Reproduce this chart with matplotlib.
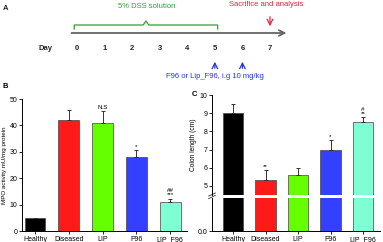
import matplotlib
matplotlib.use("Agg")
import matplotlib.pyplot as plt
import numpy as np

# data
groups = ["Healthy", "Diseased", "LIP", "F96", "LIP_F96"]
colors = ["#000000", "#ff1a1a", "#66ff00", "#3340ff", "#7fffd4"]
mpo = [5, 42, 41, 28, 11]
mpo_err = [0, 3.8, 4.5, 2.6, 1.3]
mpo_marks = ["", "", "N.S", "*", "##\n***"]
colon = [9.0, 5.3, 5.6, 7.0, 8.5]
colon_err = [0.5, 0.6, 0.4, 0.55, 0.3]
colon_marks = ["", "**", "", "*", "#\n**"]
days = [0, 1, 2, 3, 4, 5, 6, 7]
dss_days = [0, 5]
dose_days = [5, 6]
sacrifice_day = 7

plt.rcParams['font.family'] = ['Liberation Sans', 'DejaVu Sans']
fig = plt.figure(figsize=(3.83, 2.42), dpi=100)
W, H = 383, 242

# ---- panel A (timeline) ----
ax_a = fig.add_axes([0, 1 - 80 / H, 1, 80 / H])
px0, step = 77, 27.57
ax_a.set_xlim(-px0 / step, (W - px0) / step)
ax_a.set_ylim(80, 0)
ax_a.axis("off")
ax_a.annotate("", xy=(7.7, 33), xytext=(-0.3, 33),
              arrowprops=dict(arrowstyle="->", color="#666666", lw=1.3))
for d in days:
    ax_a.text(d, 49, str(d), ha="center", va="center", fontsize=5.5, fontweight="bold", color="#222222")
ax_a.text(-1.15, 49, "Day", ha="center", va="center", fontsize=5.5, fontweight="bold", color="#222222")
# bracket
b0, b1 = dss_days[0] - 0.1, dss_days[1] + 0.1
mid = (b0 + b1) / 2
ax_a.plot([b0, b0, mid - 0.1, mid, mid + 0.1, b1, b1],
          [29, 25, 25, 21, 25, 25, 29], color="#33a02c", lw=0.9)
ax_a.text(2.54, 7, "5% DSS solution", ha="center", va="center", fontsize=5.5, color="#33a02c")
ax_a.text(sacrifice_day - 0.14, 5, "Sacrifice and analysis", ha="center", va="center",
          fontsize=5.5, color="#e8203a")
ax_a.annotate("", xy=(sacrifice_day, 29), xytext=(sacrifice_day, 14),
              arrowprops=dict(arrowstyle="->", color="#e8203a", lw=0.9))
for d in dose_days:
    ax_a.annotate("", xy=(d, 59), xytext=(d, 71),
                  arrowprops=dict(arrowstyle="->", color="#2233ee", lw=0.9))
ax_a.text(5.0, 77, "F96 or Lip_F96, i.g 10 mg/kg", ha="center", va="center",
          fontsize=5.5, color="#2233ee")
ax_a.text(-2.6, 8, "A", ha="center", va="center", fontsize=5.5, fontweight="bold", color="#222222")


def style(ax):
    for s in ["top", "right"]:
        ax.spines[s].set_visible(False)
    for s in ["left", "bottom"]:
        ax.spines[s].set_linewidth(0.7)
    ax.tick_params(labelsize=5, length=2, width=0.6, pad=1.5)


x = np.arange(len(groups))

# ---- panel B ----
ax_b = fig.add_axes([22 / W, (H - 231) / H, 165 / W, 132 / H])
ax_b.bar(x, mpo, width=0.62, color=colors, edgecolor="#444444", linewidth=0.5)
ax_b.errorbar(x, mpo, yerr=[np.zeros(5), mpo_err], fmt="none", ecolor="#333333",
              elinewidth=0.7, capsize=1.5, capthick=0.7)
for i, m in enumerate(mpo_marks):
    if m:
        ax_b.text(x[i], mpo[i] + mpo_err[i] + 0.5, m, ha="center", va="bottom",
                  fontsize=4.5, linespacing=0.8)
ax_b.set_xlim(-0.385, 4.5)
ax_b.set_ylim(0, 50)
ax_b.set_yticks([0, 10, 20, 30, 40, 50])
ax_b.set_xticks(x)
ax_b.set_xticklabels(groups)
ax_b.set_ylabel("MPO activity mU/mg protein", fontsize=4.5, labelpad=1.5)
style(ax_b)
fig.text(3 / W, 1 - 87 / H, "B", fontsize=5.5, fontweight="bold", va="center")

# ---- panel C (broken axis) ----
cl, cw = 212 / W, 168 / W
ax_c = fig.add_axes([cl, (H - 195) / H, cw, 100 / H])
ax_c0 = fig.add_axes([cl, (H - 231) / H, cw, 33 / H])
for ax in (ax_c, ax_c0):
    ax.bar(x, colon, width=0.62, color=colors, edgecolor="#444444", linewidth=0.5)
    ax.set_xlim(-0.646, 4.52)
    style(ax)
ax_c.errorbar(x, colon, yerr=[np.zeros(5), colon_err], fmt="none", ecolor="#333333",
              elinewidth=0.7, capsize=1.5, capthick=0.7)
for i, m in enumerate(colon_marks):
    if m:
        ax_c.text(x[i], colon[i] + colon_err[i] + 0.05, m, ha="center", va="bottom",
                  fontsize=4.5, linespacing=0.8)
ax_c.set_ylim(4.5, 10)
ax_c.set_yticks([5, 6, 7, 8, 9, 10])
ax_c.spines["bottom"].set_visible(False)
ax_c.tick_params(axis="x", bottom=False, labelbottom=False)
ax_c.set_ylabel("Colon length (cm)", fontsize=4.8, labelpad=2)
ax_c0.set_ylim(0, 1.8)
ax_c0.set_yticks([0])
ax_c0.set_yticklabels(["0.0"])
ax_c0.set_xticks(x)
ax_c0.set_xticklabels(groups)
# break marks
kw = dict(color="#333333", lw=0.6, clip_on=False)
ax_c.plot([-0.02, 0.02], [-0.01, 0.02], transform=ax_c.transAxes, **kw)
ax_c0.plot([-0.02, 0.02], [0.98, 1.08], transform=ax_c0.transAxes, **kw)
fig.text(192 / W, 1 - 95 / H, "C", fontsize=5.5, fontweight="bold", va="center")

fig.savefig("out.png", dpi=100)
